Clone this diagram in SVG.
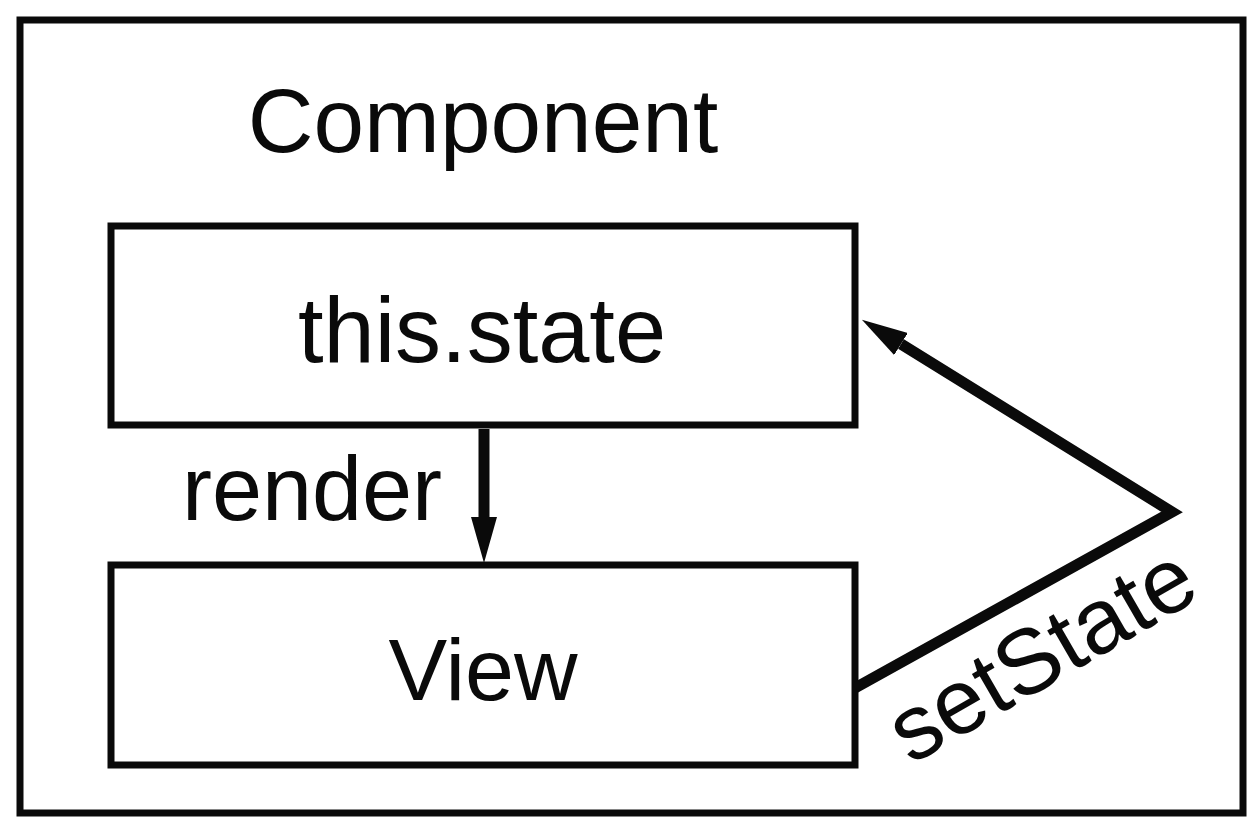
<svg xmlns="http://www.w3.org/2000/svg" width="1260" height="836" viewBox="0 0 1260 836">
<style>
.box{fill:none;stroke:#0a0a0a;stroke-width:7}
.lbl{font-family:"Liberation Sans",Arial,sans-serif;fill:#0a0a0a}
.conn{fill:none;stroke:#0a0a0a;stroke-width:11;stroke-linejoin:miter}
</style>
<defs>
<marker id="ah" viewBox="0 0 46 26" refX="0" refY="13" markerWidth="46" markerHeight="26" markerUnits="userSpaceOnUse" orient="auto">
<path d="M0,0 L46,13 L0,26 z" fill="#0a0a0a"/>
</marker>
</defs>
<rect width="1260" height="836" fill="#ffffff"/>
<g id="component">
<rect class="box" x="20" y="20" width="1223" height="793"/>
<text class="lbl" x="483" y="152" font-size="91" text-anchor="middle">Component</text>
</g>
<g id="state">
<rect class="box" x="111" y="226" width="744" height="199"/>
<text class="lbl" x="482" y="362" font-size="92" text-anchor="middle">this.state</text>
</g>
<g id="view">
<rect class="box" x="111" y="565" width="744" height="200"/>
<text class="lbl" x="483" y="700" font-size="88" text-anchor="middle">View</text>
</g>
<g id="connectors">
<line class="conn" x1="484" y1="429" x2="484" y2="517" marker-end="url(#ah)"/>
<text class="lbl" x="312" y="520" font-size="90" text-anchor="middle">render</text>
<polyline class="conn" points="855,688 1172,512 901,344" marker-end="url(#ah)"/>
<text class="lbl" x="0" y="0" font-size="92" text-anchor="middle" transform="translate(1057,681) rotate(-30)">setState</text>
</g>
</svg>
